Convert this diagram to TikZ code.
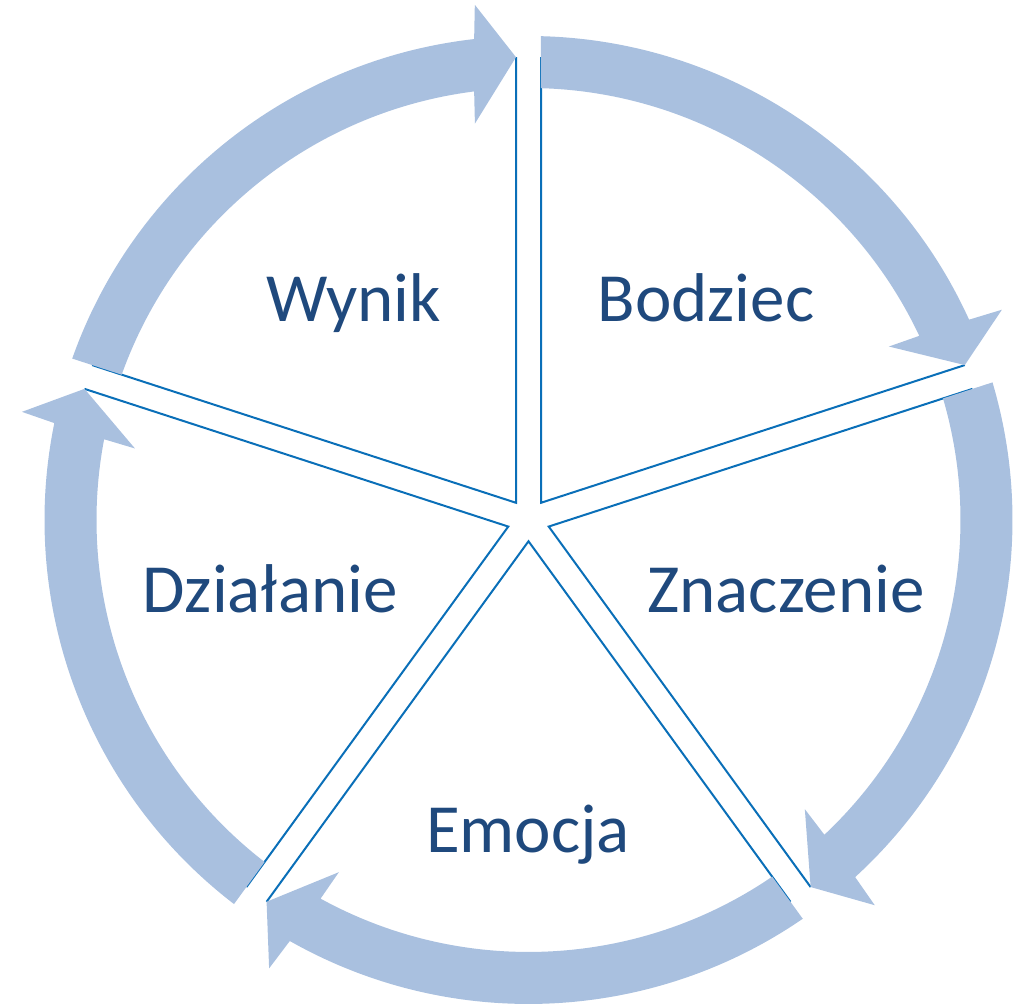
\documentclass[tikz,border=0pt]{standalone}
\usepackage{fontspec}
\setmainfont{Carlito}
\usetikzlibrary{calc}
\definecolor{arrowfill}{HTML}{A9C0DF}
\definecolor{lineblue}{HTML}{0A6FB8}
\definecolor{textblue}{HTML}{1F497D}
\tikzset{
  sectorline/.style={draw=lineblue, line width=2pt, line join=miter},
  cyclearrow/.style={fill=arrowfill, draw=none},
  label/.style={font=\fontsize{69}{80}\selectfont, text=textblue, anchor=base, inner sep=0pt}
}
% sector a -> b (clockwise): #1 = a, #2 = b, #3 = name
\newcommand{\mysector}[3]{%
  \coordinate (#3a) at ($(C)+(#1:462.8pt)+(#1-90:12.5pt)$);
  \coordinate (#3b) at ($(C)+(#2:462.8pt)+(#2+90:12.5pt)$);
  \coordinate (#3v) at ($(C)+({(#1+#2)/2}:21.27pt)$);
  \draw[sectorline] (#3a) -- (#3v) -- (#3b);
}
\newcommand{\myarrow}[3]{%
  \fill[cyclearrow] ($(C)+({#1-1.48}:484pt)$)
     arc[start angle={#1-1.48}, end angle={#2+6.45}, radius=484pt]
     -- ($(C)+({#2+5.95}:518pt)$)
     -- (#3b)
     -- ($(C)+({#2+7.7}:400pt)$)
     -- ($(C)+({#2+7.23}:432pt)$)
     arc[start angle={#2+7.23}, end angle={#1-1.658}, radius=432pt]
     -- cycle;
}
\begin{document}
\begin{tikzpicture}[x=1pt,y=1pt]
\useasboundingbox (0,0) rectangle (1013,1008);
\coordinate (C) at (528.5,488);
\mysector{90}{18}{bod}
\mysector{18}{-54}{zna}
\mysector{-54}{-126}{emo}
\mysector{-126}{-198}{dzi}
\mysector{162}{90}{wyn}
\myarrow{90}{18}{bod}
\myarrow{18}{-54}{zna}
\myarrow{-54}{-126}{emo}
\myarrow{-126}{-198}{dzi}
\myarrow{162}{90}{wyn}
\node[label] (twyn) at (353.5,686) {Wynik};
\node[label] (tbod) at (706,686) {Bodziec};
\node[label] (tzna) at (786,395) {Znaczenie};
\node[label] (temo) at (528,155) {Emocja};
\node[label] (tdzi) at (270,395) {Działanie};
\end{tikzpicture}
\end{document}
